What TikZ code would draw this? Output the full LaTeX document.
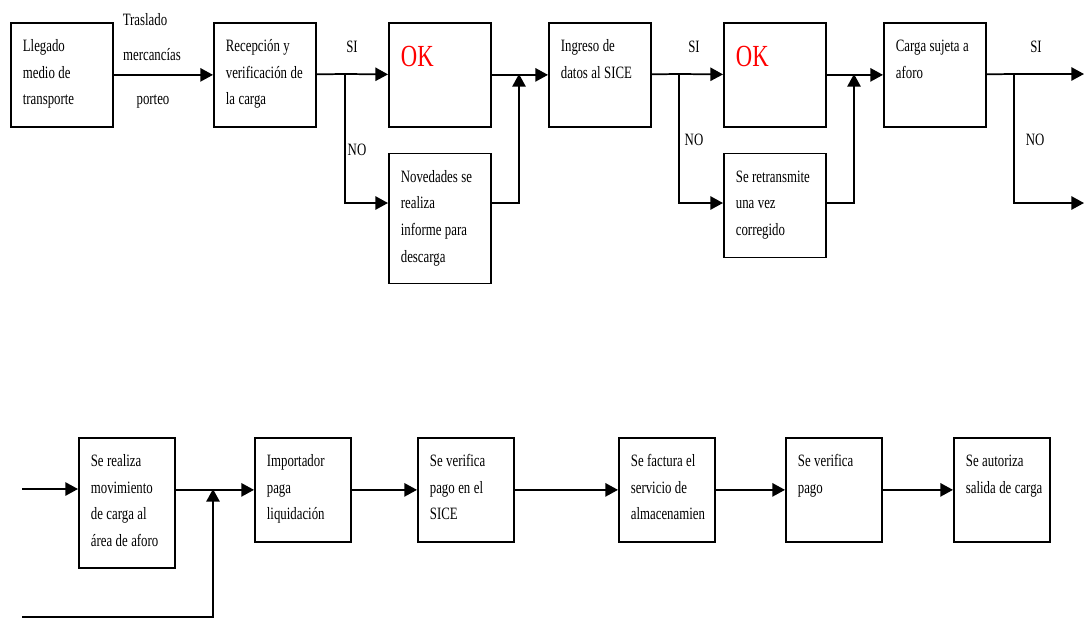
\documentclass[tikz,border=0pt]{standalone}
\usepackage{fontspec}
\setmainfont{Liberation Serif}[FakeStretch=0.74]
\usetikzlibrary{
	arrows.meta,
	positioning,
	}
\newcommand{\boxfont}{\fontsize{13}{20}\selectfont}

\begin{document}
\begin{tikzpicture}[x=0.75pt, y=-0.75pt, line width=1.3pt,
		box/.style={draw, anchor=north west, align=left, font=\boxfont,
			inner xsep=0pt, inner ysep=11pt, text width=76.5pt, text height=10.5pt, text depth=45.5pt,
			execute at begin node={\leftskip=9pt\spaceskip=2.6pt\xspaceskip=2.6pt\relax}},
		tallbox/.style={text depth=65pt},
		lowbox/.style={box, text width=72pt},
		okbox/.style={box, font=\fontsize{23}{24}\selectfont, text=red, text height=22pt, text depth=34pt},
		lbl/.style={font=\boxfont, inner sep=0pt},
		arr/.style={-{Triangle[length=9.5pt,width=10pt]}}]
			\useasboundingbox (0,0) rectangle (1084,619);
			% primera fila
			\node[box] (llegado) at (10,22) {Llegado\\medio de\\transporte};
			\node[box] (recepcion) at (213,22) {Recepción y\\verificación de\\la carga};
			\node[okbox] (ok1) at (388,22) {OK};
			\node[box, tallbox, below = 18.75pt of ok1] (novedades) {Novedades se\\realiza\\informe para\\descarga};
			\node[box] (ingreso) at (548,22) {Ingreso de\\datos al SICE};
			\node[okbox] (ok2) at (723,22) {OK};
			\node[box, below = 18.75pt of ok2] (retransmite) {Se retransmite\\una vez\\corregido};
			\node[box] (aforo) at (883,22) {Carga sujeta a\\aforo};
			\node[lbl] (traslado) at (145,20) {Traslado};
			\node[lbl] (mercancias) at (152,55) {mercancías};
			\node[lbl] (porteo) at (153,101) {porteo};
			\node[lbl] (si1) at (352,47) {SI};
			\node[lbl] (no1) at (357,150) {NO};
			\node[lbl] (si2) at (694,47) {SI};
			\node[lbl] (no2) at (694,140) {NO};
			\node[lbl] (si3) at (1036,47) {SI};
			\node[lbl] (no3) at (1035,140) {NO};
			\coordinate (s1) at (345,74);
			\coordinate (d1) at (345,203);
			\coordinate (j1) at (519,74);
			\coordinate (s2) at (679,74);
			\coordinate (d2) at (679,203);
			\coordinate (j2) at (854,74);
			\coordinate (s3) at (1014,74);
			\coordinate (d3) at (1014,203);
			\coordinate (e1) at (1084,74);
			\coordinate (e2) at (1084,203);
			\draw[arr] (llegado) -- (recepcion);
			\draw[-] (recepcion) -- (s1);
			\draw[arr] (s1) -- (ok1);
			\draw[arr] (s1) -- (d1) -- (novedades.west |- d1);
			\draw[arr] (novedades.east |- d1) -| (j1);
			\draw[arr] (ok1) -- (ingreso);
			\draw[-] (ingreso) -- (s2);
			\draw[arr] (s2) -- (ok2);
			\draw[arr] (s2) -- (d2) -- (retransmite.west |- d2);
			\draw[arr] (retransmite.east |- d2) -| (j2);
			\draw[arr] (ok2) -- (aforo);
			\draw[-] (aforo) -- (s3);
			\draw[arr] (s3) -- (e1);
			\draw[arr] (s3) -- (d3) -- (e2);
			% segunda fila
			\node[lowbox, tallbox] (movimiento) at (78,437) {Se realiza\\movimiento\\de carga al\\área de aforo};
			\node[lowbox] (importador) at (254,437) {Importador\\paga\\liquidación};
			\node[lowbox] (pagosice) at (417,437) {Se verifica\\pago en el\\SICE};
			\node[lowbox] (factura) at (618,437) {Se factura el\\servicio de\\almacenamien};
			\node[lowbox] (pago) at (785,437) {Se verifica\\pago};
			\node[lowbox] (salida) at (953,437) {Se autoriza\\salida de carga};
			\coordinate (a0) at (22,489);
			\coordinate (a1) at (22,617);
			\coordinate (j3) at (213,489);
			\draw[arr] (a0) -- (movimiento.west |- a0);
			\draw[arr] (movimiento.east |- importador.west) -- (importador);
			\draw[arr] (a1) -| (j3);
			\draw[arr] (importador) -- (pagosice);
			\draw[arr] (pagosice) -- (factura);
			\draw[arr] (factura) -- (pago);
			\draw[arr] (pago) -- (salida);
		\end{tikzpicture}
\end{document}
